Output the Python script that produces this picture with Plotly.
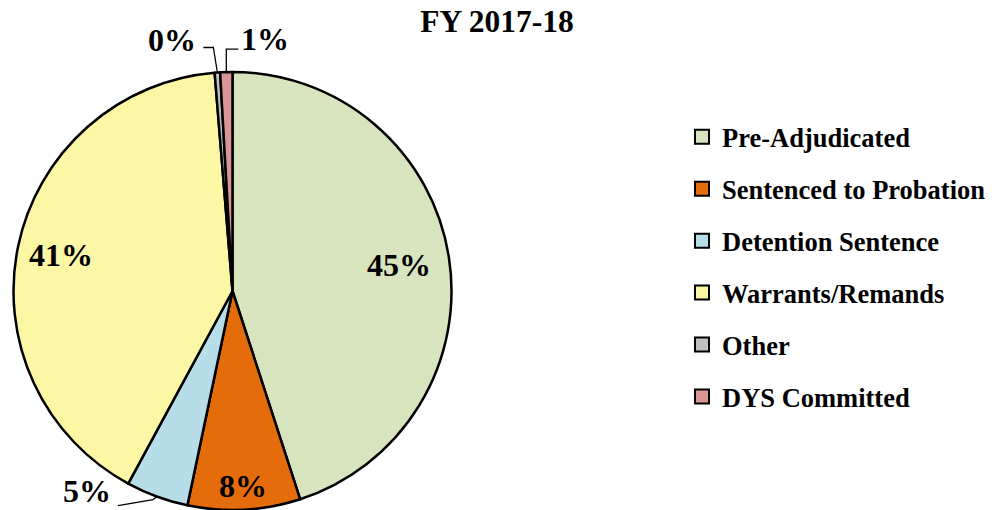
import math
import plotly.graph_objects as go

# ---- data ----
categories = ["Pre-Adjudicated", "Sentenced to Probation", "Detention Sentence",
              "Warrants/Remands", "Other", "DYS Committed"]
values = [45.0, 8.3, 4.6, 40.8, 0.4, 0.9]
colors = ["#D7E4BD", "#E46C0A", "#B7DEE8", "#FCF7A5", "#C0C0C0", "#D99694"]
title_text = "FY 2017-18"

W, H = 992, 510
CX, CY, R = 232.5, 291.0, 219.0  # pie centre / radius in pixels

FONT = "Liberation Serif"
LABEL_SIZE = 32

fig = go.Figure()
fig.add_trace(go.Pie(
    labels=categories, values=values, sort=False, direction="clockwise", rotation=0,
    marker=dict(colors=colors, line=dict(color="black", width=2.5)),
    textinfo="none", hoverinfo="label+percent", showlegend=False,
    domain=dict(x=[(CX - R) / W, (CX + R) / W], y=[1 - (CY + R) / H, 1 - (CY - R) / H]),
))

# legend entries (dummy traces so entries can be spaced like the original)
for cat, col in zip(categories, colors):
    fig.add_trace(go.Scatter(
        x=[None], y=[None], mode="markers", name=cat, legendgroup=cat,
        marker=dict(symbol="square", size=14, color=col, line=dict(color="black", width=2)),
    ))

# ---- labels computed from slice angles ----
total = sum(values)
cum = 0.0
mids = []
for v in values:
    mids.append((cum + v / 2) / total * 2 * math.pi)
    cum += v

def px_to_paper(x, y):
    return x / W, 1 - y / H

def add_label(i, x, y):
    xp, yp = px_to_paper(x, y)
    fig.add_annotation(x=xp, y=yp, xref="paper", yref="paper",
                       xanchor="center", yanchor="middle",
                       text=f"{round(values[i] / total * 100)}%", showarrow=False,
                       font=dict(family=FONT, size=LABEL_SIZE, color="black", weight="bold"))

inside_frac = {0: 0.77, 1: 0.89, 3: 0.80}
for i, frac in inside_frac.items():
    a = mids[i]
    add_label(i, CX + R * frac * math.sin(a), CY - R * frac * math.cos(a))

# outside labels: label offset from slice edge, leader-line points offsets from slice edge
outside = {
    2: dict(label=(-70, -6), line=[(-39, 9), (-4, 3)]),
    4: dict(label=(-45, -33), line=[(-14, -25), (-4, -25)]),
    5: dict(label=(39, -33), line=[(12, -23), (0, -23)]),
}
for i, spec in outside.items():
    a = mids[i]
    ex = CX + R * math.sin(a)
    ey = CY - R * math.cos(a)
    add_label(i, ex + spec["label"][0], ey + spec["label"][1])
    pts = [(ex + dx, ey + dy) for dx, dy in spec["line"]] + [(ex, ey)]
    path = "M " + " L ".join(
        "{:.5f},{:.5f}".format(*px_to_paper(px, py)) for px, py in pts)
    fig.add_shape(type="path", path=path, xref="paper", yref="paper",
                  line=dict(color="black", width=1.3))

fig.update_layout(
    width=W, height=H,
    margin=dict(l=0, r=0, t=0, b=0),
    paper_bgcolor="white", plot_bgcolor="white",
    title=dict(text=title_text, x=497 / W, xanchor="center", y=1 - 21 / H, yanchor="middle",
               font=dict(family=FONT, size=31.5, color="black", weight="bold")),
    xaxis=dict(visible=False), yaxis=dict(visible=False),
    showlegend=True,
    legend=dict(x=682 / W, xanchor="left", y=1 - 113 / H, yanchor="top",
                font=dict(family=FONT, size=26.5, color="black", weight="bold"),
                tracegroupgap=14.5, itemclick=False, itemdoubleclick=False,
                bgcolor="rgba(0,0,0,0)"),
)

fig.write_html("out.html", config={"displayModeBar": False},
               post_script="document.body.style.margin='0';document.body.style.overflow='hidden';")
